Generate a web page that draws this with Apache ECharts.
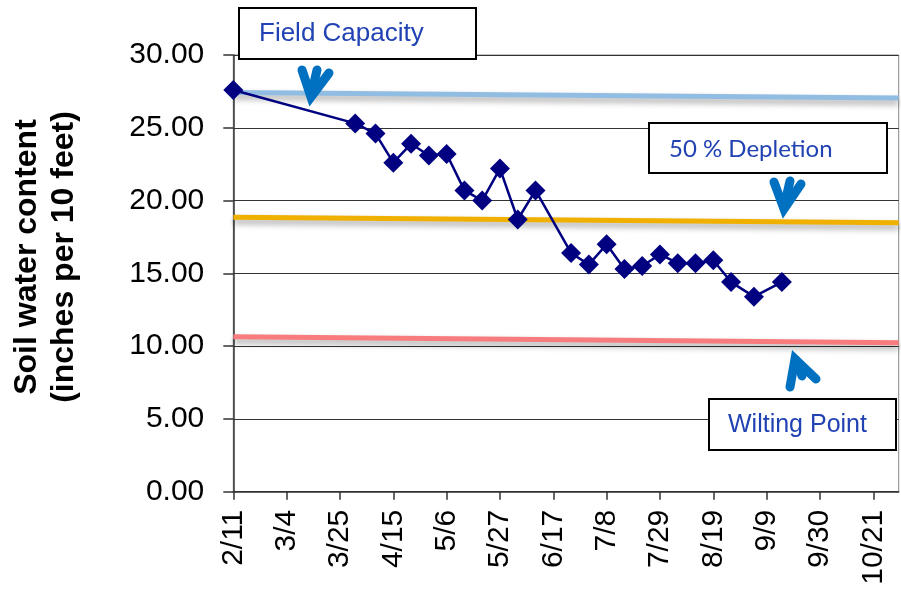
<!DOCTYPE html>
<html>
<head>
<meta charset="utf-8">
<script src="https://cdn.jsdelivr.net/npm/echarts@6/dist/echarts.min.js"></script>
<style>
html,body{margin:0;padding:0;background:#fff;}
#chart{width:901px;height:589px;}
</style>
</head>
<body>
<div id="chart"></div>
<script>
// ---- data ----
var sampleDates = ["2/11","3/31","4/8","4/15","4/22","4/29","5/6","5/13","5/20","5/27","6/3","6/10",
                   "6/24","7/1","7/8","7/15","7/22","7/29","8/5","8/12","8/19","8/26","9/4","9/15"];
var soilWater = [27.6,25.3,24.6,22.6,23.9,23.1,23.2,20.7,20.0,22.2,18.7,20.7,
                 16.4,15.6,17.0,15.3,15.5,16.3,15.7,15.7,15.9,14.4,13.4,14.4];
var xTickLabels = ["2/11","3/4","3/25","4/15","5/6","5/27","6/17","7/8","7/29","8/19","9/9","9/30","10/21"];
var refDates = ["2/11","10/31"];
var fieldCapacity = [27.43, 27.04];
var depletion50 = [18.85, 18.47];
var wiltingPoint = [10.64, 10.23];
var yTicks = [0,5,10,15,20,25,30];

var YEAR = 2013;
function dayOf(s){
  var p = s.split('/');
  var t0 = Date.UTC(YEAR, 1, 11);
  return Math.round((Date.UTC(YEAR, +p[0]-1, +p[1]) - t0)/86400000);
}
var tickDays = xTickLabels.map(dayOf);
var xMax = dayOf(refDates[1]);

function pairs(dates, vals){ return dates.map(function(d,i){ return [dayOf(d), vals[i]]; }); }

var chart = echarts.init(document.getElementById('chart'), null, {renderer:'canvas'});
var AX = '"Liberation Sans", Arial, sans-serif';

function refLine(name, vals, color){
  return {
    name: name, type: 'line', data: pairs(refDates, vals), symbol: 'none', clip: false, z: 2,
    lineStyle: {color: color, width: 5, shadowColor: 'rgba(0,0,0,0.35)', shadowBlur: 6, shadowOffsetY: 4},
    silent: true, animation: false
  };
}

function arrow(head, shaft){
  return [
    {type:'polyline', z: 100, shape:{points: head}, style:{stroke:'#0070c0', lineWidth:9, lineCap:'round', lineJoin:'miter', fill:null}},
    {type:'polyline', z: 100, shape:{points: shaft}, style:{stroke:'#0070c0', lineWidth:9, lineCap:'round', lineJoin:'miter', fill:null}}
  ];
}

function box(x,y,w,h,text,tx,ty,font){
  return [
    {type:'rect', z: 100, shape:{x:x,y:y,width:w,height:h}, style:{fill:'#fff', stroke:'#000', lineWidth:2}},
    {type:'text', z: 101, x: tx, y: ty, style:{text:text, font:font, fill:'#2142b3',
      align:'left', verticalAlign:'middle', textAlign:'left', textVerticalAlign:'middle'}}
  ];
}

var graphics = [].concat(
  [{type:'text', x: 46, y: 257, rotation: Math.PI/2,
    style:{text:'Soil water content\n(inches per 10 feet)', font:'bold 32px ' + AX, fill:'#000',
      lineHeight: 37, align:'center', verticalAlign:'middle', textAlign:'center', textVerticalAlign:'middle'}}],
  box(239, 8, 237, 51, 'Field Capacity', 259, 34, '26px ' + AX),
  box(649, 123, 238, 50, '50 % Depletion', 669, 149, '24px Lato, "Open Sans", sans-serif'),
  box(709, 399, 187, 51, 'Wilting Point', 728, 425, '25px ' + AX),
  arrow([[302,70],[311,97],[329,73]], [[317,70],[311,96]]),
  arrow([[774,182],[784,209],[801,184]], [[790,181],[784,207]]),
  arrow([[790,387],[795,359],[816,379]], [[802,376],[796,360]])
);

chart.setOption({
  animation: false,
  backgroundColor: '#fff',
  grid: {left: 233.3, top: 55, right: 2.3, bottom: 97.3, show: true, borderColor: '#888', borderWidth: 1},
  xAxis: {
    type: 'value', min: 0, max: xMax, interval: 21,
    axisLine: {show: true, lineStyle: {color: '#333', width: 1.5}},
    axisTick: {show: true, length: 8, customValues: tickDays, lineStyle: {color: '#333', width: 1.5}},
    axisLabel: {show: true, rotate: 90, margin: 18, fontSize: 30, fontFamily: AX, color: '#000',
      customValues: tickDays,
      formatter: function(v){ var i = tickDays.indexOf(Math.round(v)); return i >= 0 ? xTickLabels[i] : ''; }},
    splitLine: {show: false}
  },
  yAxis: {
    type: 'value', min: 0, max: 30, interval: 5,
    axisLine: {show: true, lineStyle: {color: '#333', width: 1.5}},
    axisTick: {show: true, length: 10, lineStyle: {color: '#333', width: 1.5}},
    axisLabel: {margin: 29, fontSize: 30, fontFamily: AX, color: '#000',
      formatter: function(v){ return yTicks.indexOf(v) >= 0 ? v.toFixed(2) : ''; }},
    splitLine: {show: true, lineStyle: {color: '#333', width: 1}}
  },
  series: [
    refLine('Field Capacity', fieldCapacity, '#92bde3'),
    refLine('50 % Depletion', depletion50, '#efb000'),
    refLine('Wilting Point', wiltingPoint, '#f87c7e'),
    {
      name: 'Soil water', type: 'line', data: pairs(sampleDates, soilWater), clip: false, z: 5,
      symbol: 'diamond', symbolSize: 20,
      itemStyle: {color: '#000080'},
      lineStyle: {color: '#000080', width: 2.5}
    }
  ],
  graphic: graphics
});
</script>
</body>
</html>
